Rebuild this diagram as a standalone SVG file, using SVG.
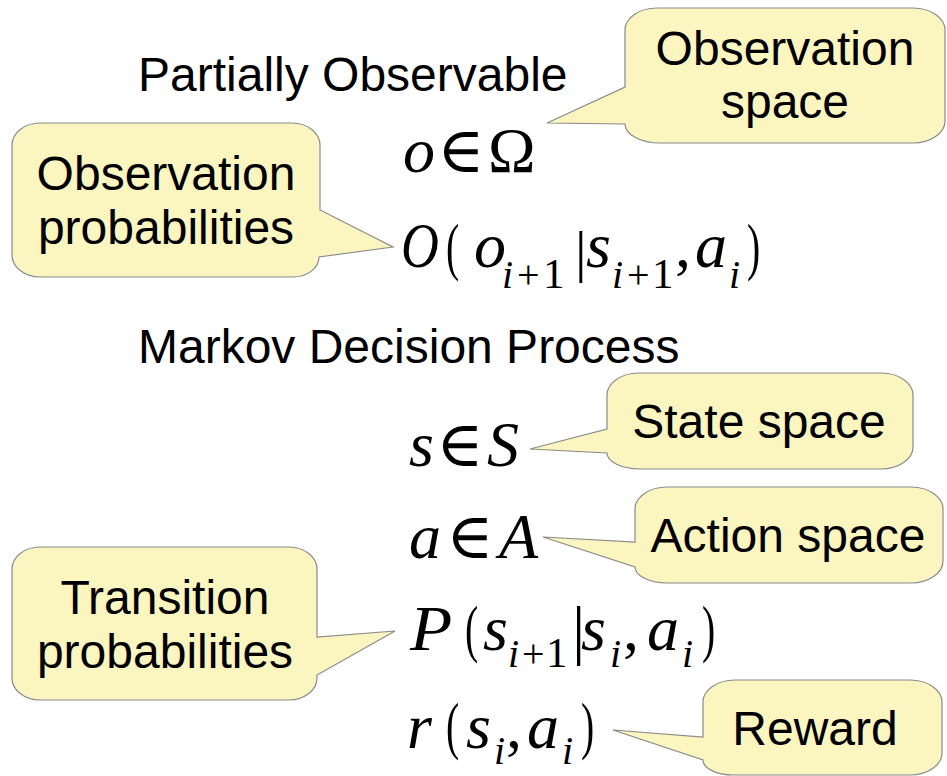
<svg xmlns="http://www.w3.org/2000/svg" width="947" height="776" viewBox="0 0 947 776">
<style>
.bg{fill:#ffffff}
.callout{fill:#fbf5c0;stroke:#8a8a8a;stroke-width:1.2;stroke-linejoin:miter}
.lbl{font-family:"Liberation Sans",Arial,sans-serif;font-size:48px;fill:#000}
.c{text-anchor:middle}
.m{font-family:"Liberation Serif","DejaVu Serif",serif;font-size:64px;fill:#000}
.it{font-style:italic}
.up{font-style:normal}
.s{font-size:40px}
.d{font-size:43px}
</style>
<rect class="bg" x="0" y="0" width="947" height="776"/>

<g id="title-pomdp">
<text class="lbl" x="138" y="91">Partially Observable</text>
</g>
<g id="title-mdp">
<text class="lbl" x="138" y="363">Markov Decision Process</text>
</g>

<g id="callout-observation-space">
<path class="callout" d="M657 8 H913 A32 22 0 0 1 945 30 V121 A32 22 0 0 1 913 143 H660 A35 19 0 0 1 625 124 L547 123 L625 87 V30 A32 22 0 0 1 657 8 Z"/>
<text class="lbl c" x="785" y="65">Observation</text>
<text class="lbl c" x="785" y="118">space</text>
</g>

<g id="callout-observation-probabilities">
<path class="callout" d="M40 123 H292 A28 22 0 0 1 320 145 V210 L393 247 L319 257 A26 20 0 0 1 293 277 H40 A28 22 0 0 1 12 255 V145 A28 22 0 0 1 40 123 Z"/>
<text class="lbl c" x="166" y="190">Observation</text>
<text class="lbl c" x="166" y="244">probabilities</text>
</g>

<g id="callout-state-space">
<path class="callout" d="M639 373 H881 A32 22 0 0 1 913 395 V447 A32 22 0 0 1 881 469 H640 A33 16 0 0 1 607 453 L530 449 L607 429 V395 A32 22 0 0 1 639 373 Z"/>
<text class="lbl c" x="759" y="438">State space</text>
</g>

<g id="callout-action-space">
<path class="callout" d="M667 487 H911 A32 22 0 0 1 943 509 V561 A32 22 0 0 1 911 583 H667 A32 16 0 0 1 635 567 L543 537 L635 542 V509 A32 22 0 0 1 667 487 Z"/>
<text class="lbl c" x="788" y="552">Action space</text>
</g>

<g id="callout-transition-probabilities">
<path class="callout" d="M40 547 H289 A28 22 0 0 1 317 569 V637 L395 631 L317 675 V678 A28 22 0 0 1 289 700 H40 A28 22 0 0 1 12 678 V569 A28 22 0 0 1 40 547 Z"/>
<text class="lbl c" x="165" y="614">Transition</text>
<text class="lbl c" x="165" y="668">probabilities</text>
</g>

<g id="callout-reward">
<path class="callout" d="M735 680 H910 A32 22 0 0 1 942 702 V753 A32 22 0 0 1 910 775 H733 A30 15 0 0 1 703 760 L613 730 L703 737 V702 A32 22 0 0 1 735 680 Z"/>
<text class="lbl c" x="815" y="745">Reward</text>
</g>

<g id="formula-o-in-omega">
<text class="m" y="172"><tspan class="it" x="403">o</tspan><tspan class="up" x="437">∈</tspan><tspan class="up" x="488">Ω</tspan></text>
</g>

<g id="formula-observation-prob">
<text class="m it" font-size="72" transform="translate(401 267) scale(0.82 1)">O</text>
<text class="m up" font-size="100" transform="translate(446 268) scale(0.62 1)">(</text>
<text class="m"><tspan class="it" x="474" y="267">o</tspan><tspan class="it s" x="502" y="288">i</tspan><tspan class="up s" x="517" y="288">+</tspan><tspan class="up d" x="543" y="288">1</tspan><tspan class="up" x="575" y="271" font-size="58">|</tspan><tspan class="it" x="586" y="267">s</tspan><tspan class="it s" x="612" y="288">i</tspan><tspan class="up s" x="627" y="288">+</tspan><tspan class="up d" x="652" y="288">1</tspan><tspan class="up" x="675" y="267">,</tspan><tspan class="it" x="695" y="267">a</tspan><tspan class="it s" x="729" y="288">i</tspan></text>
<text class="m up" font-size="100" transform="translate(747 268) scale(0.62 1)">)</text>
</g>

<g id="formula-s-in-S">
<text class="m" y="466"><tspan class="it" x="409">s</tspan><tspan class="up" x="436">∈</tspan><tspan class="it" x="487">S</tspan></text>
</g>

<g id="formula-a-in-A">
<text class="m" y="558"><tspan class="it" x="409">a</tspan><tspan class="up" x="446">∈</tspan><tspan class="it" x="499">A</tspan></text>
</g>

<g id="formula-transition-prob">
<text class="m it" font-size="66" transform="translate(410 650) scale(1.08 1)">P</text>
<text class="m up" font-size="86" transform="translate(465 650) scale(0.62 1)">(</text>
<text class="m"><tspan class="it" x="483" y="650">s</tspan><tspan class="it s" x="508" y="667">i</tspan><tspan class="up s" x="522" y="667">+</tspan><tspan class="up d" x="546" y="667">1</tspan><tspan class="up" x="572" y="652" font-size="66">|</tspan><tspan class="it" x="581" y="650">s</tspan><tspan class="it s" x="610" y="667">i</tspan><tspan class="up" x="623" y="650">,</tspan><tspan class="it" x="647" y="650">a</tspan><tspan class="it s" x="682" y="667">i</tspan></text>
<text class="m up" font-size="86" transform="translate(702 650) scale(0.62 1)">)</text>
</g>

<g id="formula-reward">
<text class="m it" x="407" y="748" font-size="70">r</text>
<text class="m up" font-size="86" transform="translate(446 747) scale(0.62 1)">(</text>
<text class="m"><tspan class="it" x="466" y="748">s</tspan><tspan class="it s" x="494" y="764">i</tspan><tspan class="up" x="506" y="748">,</tspan><tspan class="it" x="527" y="748">a</tspan><tspan class="it s" x="562" y="764">i</tspan></text>
<text class="m up" font-size="86" transform="translate(581 747) scale(0.62 1)">)</text>
</g>

<g id="connectors"></g>
</svg>
